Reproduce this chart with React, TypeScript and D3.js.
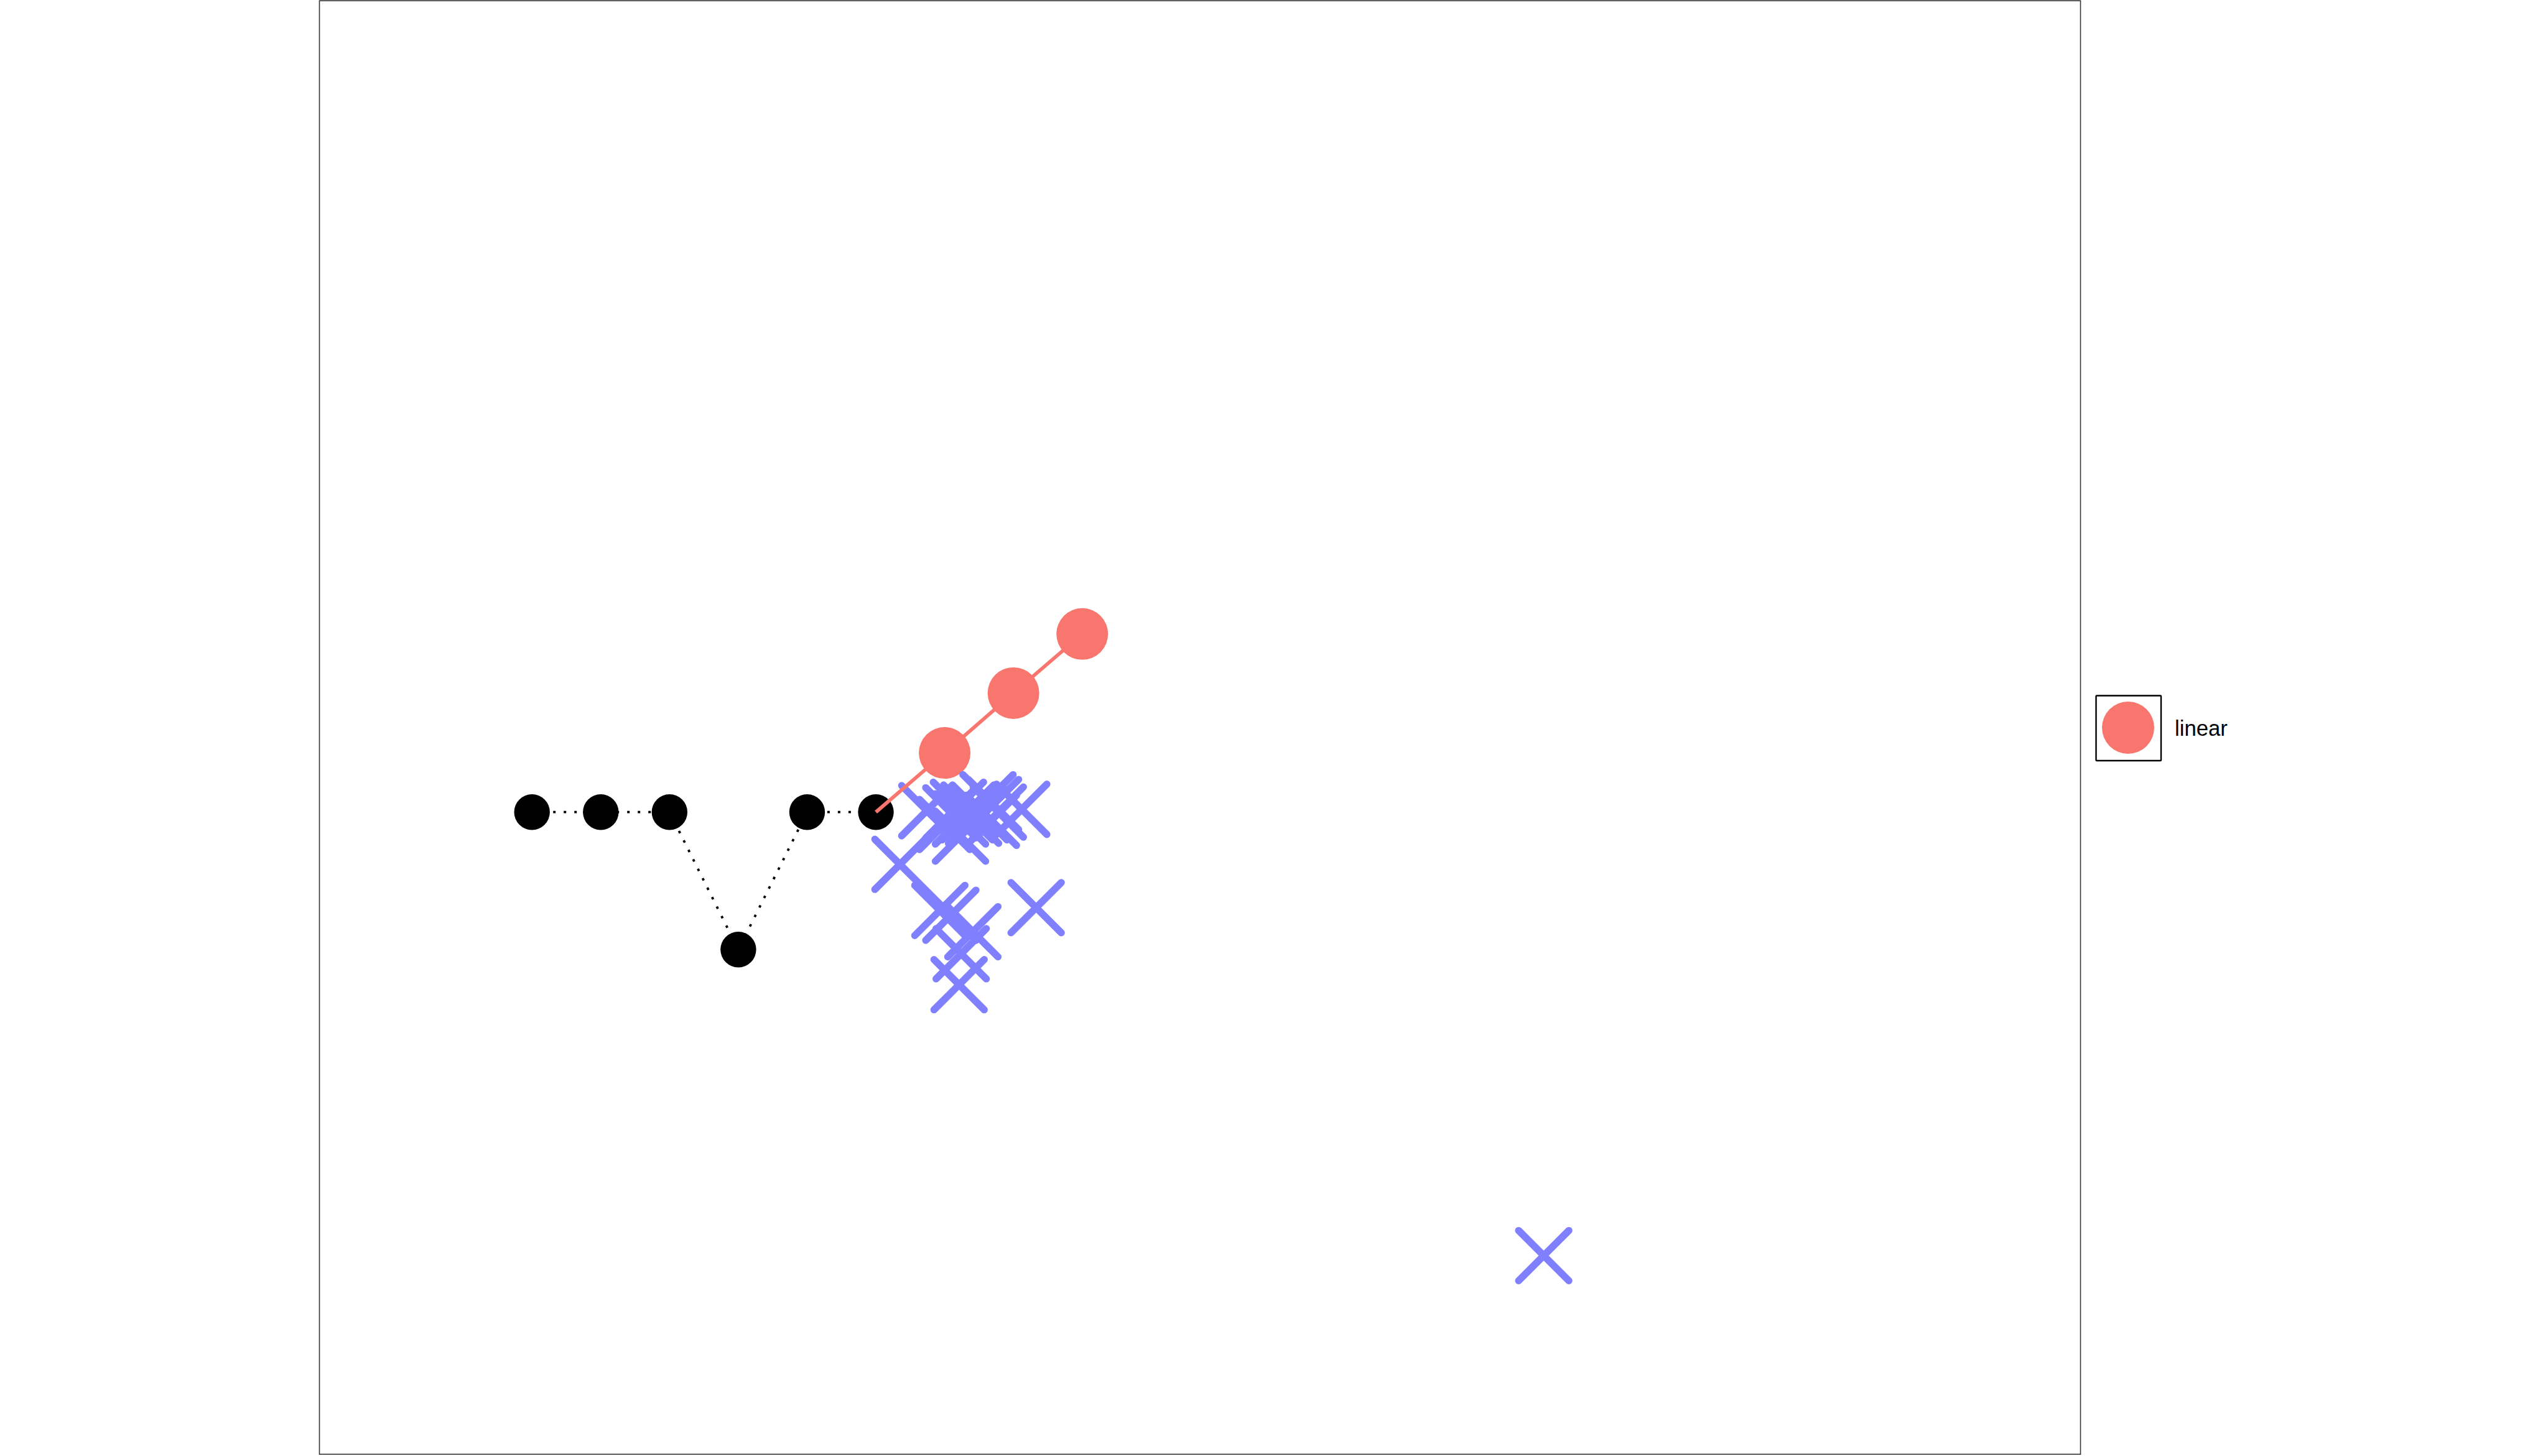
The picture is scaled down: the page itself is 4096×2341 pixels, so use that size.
import React from "react";
import * as d3 from "d3";

const W = 4096;
const H = 2341;

// black series (dotted line + points)
const blackX = [0, 1, 2, 3, 4, 5];
const blackY = [0, 0, 0, -2, 0, 0];

// "linear" series: line starts at the last black point
const redX = [5, 6, 7, 8];
const redY = [0, 0.86, 1.73, 2.59];

// blue cross markers
const blueX = [5.35, 5.74, 6.0, 6.09, 6.2, 6.23, 6.23, 6.35, 6.48, 6.42, 6.63, 6.71, 6.78, 6.68, 7.12, 6.33, 6.54, 7.33, 5.93, 6.09, 6.41, 6.24, 6.21, 14.71];
const blueY = [-0.76, 0.02, -0.18, -0.01, 0.07, -0.1, -0.35, 0.03, 0.03, -0.09, 0.18, 0.11, 0.0, -0.12, 0.04, -0.04, -0.04, -1.39, -1.43, -1.5, -1.74, -2.06, -2.51, -6.45];

const xDomain = [-3.095, 22.519];
const yDomain = [-9.344, 11.804];
const legendLabels = ["linear"];

export default function App() {
  const x = d3.scaleLinear().domain(xDomain).range([513.0, 3345.0]);
  const y = d3.scaleLinear().domain(yDomain).range([2338.8, 0.6]);

  const black = blackX.map((v, i) => [v, blackY[i]] as [number, number]);
  const red = redX.map((v, i) => [v, redY[i]] as [number, number]);
  const blue = blueX.map((v, i) => [v, blueY[i]] as [number, number]);

  const line = d3
    .line<[number, number]>()
    .x((d) => x(d[0]))
    .y((d) => y(d[1]));

  const xs = 40.4; // half size of cross

  return (
    <svg
      width={W}
      height={H}
      style={{ position: "absolute", left: 0, top: 0, background: "#fff" }}
    >
      <rect x={0} y={0} width={W} height={H} fill="#ffffff" />
      {/* black dotted path */}
      <path
        d={line(black) || ""}
        fill="none"
        stroke="#000"
        strokeWidth={3.8}
        strokeDasharray="4 13"
      />
      {black.map((d, i) => (
        <circle key={"b" + i} cx={x(d[0])} cy={y(d[1])} r={28.7} fill="#000" />
      ))}
      {/* red points */}
      {red.slice(1).map((d, i) => (
        <circle key={"r" + i} cx={x(d[0])} cy={y(d[1])} r={41.5} fill="#F8766D" />
      ))}
      {/* blue crosses */}
      {blue.map((d, i) => {
        const cx = x(d[0]);
        const cy = y(d[1]);
        return (
          <path
            key={"x" + i}
            d={`M${cx - xs},${cy - xs}L${cx + xs},${cy + xs}M${cx - xs},${cy + xs}L${cx + xs},${cy - xs}`}
            stroke="#8080FF"
            strokeWidth={11.5}
            strokeLinecap="round"
            fill="none"
          />
        );
      })}
      {/* red line */}
      <path d={line(red) || ""} fill="none" stroke="#F8766D" strokeWidth={5.8} />
      {/* panel border */}
      <rect
        x={513.5}
        y={1.2}
        width={2831}
        height={2337}
        fill="none"
        stroke="#333333"
        strokeWidth={1.6}
      />
      {/* legend */}
      <g>
        <rect
          x={3369.5}
          y={1118.5}
          width={104.5}
          height={104.5}
          fill="#fff"
          stroke="#000"
          strokeWidth={2.4}
          rx={1}
        />
        <circle cx={3421} cy={1170} r={42} fill="#F8766D" />
        <text
          x={3496}
          y={1183}
          fontFamily="'Liberation Sans', Arial, Helvetica, sans-serif"
          fontSize={34.7}
          fill="#000"
        >
          {legendLabels[0]}
        </text>
      </g>
    </svg>
  );
}
